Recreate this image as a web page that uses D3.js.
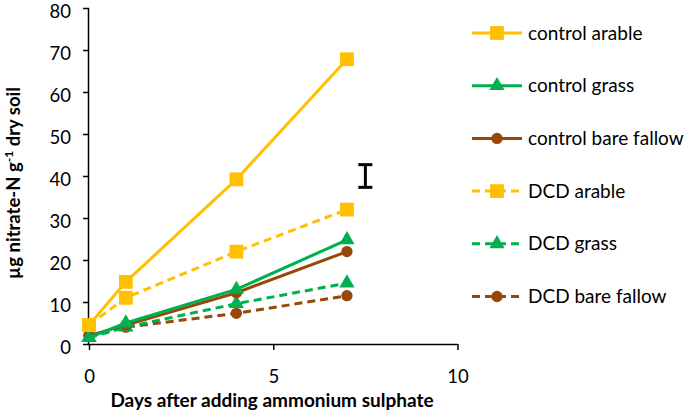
<!DOCTYPE html>
<html><head><meta charset="utf-8">
<script src="https://cdn.jsdelivr.net/npm/d3@7"></script>
<style>body{margin:0;background:#fff}svg{display:block}text{font-family:Lato,"Open Sans",sans-serif;fill:#000}</style>
</head><body><svg id="c" width="685" height="416"></svg>
<script>
const days = [0, 1, 4, 7];
const seriesNames = ["control arable","control grass","control bare fallow","DCD arable","DCD grass","DCD bare fallow"];
const controlArable = [4.5, 14.8, 39.2, 67.8];
const controlGrass = [1.5, 5.0, 13.0, 24.8];
const controlBareFallow = [2.0, 4.5, 12.2, 22.0];
const dcdArable = [4.5, 11.0, 22.0, 32.0];
const dcdGrass = [1.5, 4.0, 9.6, 14.5];
const dcdBareFallow = [2.0, 4.0, 7.3, 11.5];
const seriesColors = ["#FFC000","#00B050","#974806","#FFC000","#00B050","#974806"];
const seriesMarkers = ["square","triangle","circle","square","triangle","circle"];
const seriesDashed = [false,false,false,true,true,true];
const errorBar = {day: 7.5, center: 40, half: 2.7};
const xTicks = [0, 5, 10];
const yTicks = [0,10,20,30,40,50,60,70,80];

const values = [controlArable, controlGrass, controlBareFallow, dcdArable, dcdGrass, dcdBareFallow];
const svg = d3.select("#c");
const x = d3.scaleLinear().domain([0,10]).range([89, 457.5]);
const y = d3.scaleLinear().domain([0,80]).range([344, 8]);
const FS = "19px";

const yAxis = svg.append("g").attr("transform","translate(89,0)")
  .call(d3.axisLeft(y).tickValues(yTicks).tickSize(6).tickPadding(12));
const xAxis = svg.append("g").attr("transform","translate(0,344)")
  .call(d3.axisBottom(x).tickValues(xTicks).tickSize(6).tickPadding(20));
[yAxis, xAxis].forEach(a=>{
  a.selectAll("path,line").attr("stroke","#000").attr("stroke-width",1.5);
  a.selectAll("text").style("font-size","18.5px").style("font-family","Lato");
});
yAxis.selectAll("text").attr("y",4);
yAxis.select(".domain").attr("d","M-0.5,8V344");
xAxis.select(".domain").attr("d","M89,0.5H457.5");

svg.append("text").attr("x",272).attr("y",407).attr("text-anchor","middle")
  .style("font-size",FS).style("font-weight","bold").text("Days after adding ammonium sulphate");
const yt = svg.append("text").attr("transform","translate(20,183) rotate(-90)").attr("text-anchor","middle")
  .style("font-size","18.5px").style("font-weight","bold");
yt.append("tspan").text("µg nitrate-N g");
yt.append("tspan").attr("dy",-7).style("font-size","12px").text("-1");
yt.append("tspan").attr("dy",7).text(" dry soil");

const sym = {square: d3.symbolSquare, triangle: d3.symbolTriangle, circle: d3.symbolCircle};
const symSize = {square: 190, triangle: 100, circle: 100};
const line = d3.line().x((d,i)=>x(days[i])).y(d=>y(d));

const order = [5,4,3,2,1,0];
order.forEach(s=>{
  const g = svg.append("g");
  g.append("path").attr("d", line(values[s])).attr("fill","none")
    .attr("stroke", seriesColors[s]).attr("stroke-width",3)
    .attr("stroke-dasharray", seriesDashed[s] ? "8,5" : null);
  g.selectAll("path.m").data(values[s]).join("path").attr("class","m")
    .attr("transform",(d,i)=>`translate(${x(days[i])},${y(d)})`)
    .attr("d", d3.symbol().type(sym[seriesMarkers[s]]).size(symSize[seriesMarkers[s]]))
    .attr("fill", seriesColors[s]);
});

const ex = x(errorBar.day);
const eb = svg.append("g").attr("stroke","#000").attr("stroke-width",3);
eb.append("line").attr("x1",ex).attr("x2",ex).attr("y1",y(errorBar.center+errorBar.half)).attr("y2",y(errorBar.center-errorBar.half));
[errorBar.half,-errorBar.half].forEach(h=>eb.append("line").attr("x1",ex-7).attr("x2",ex+7)
  .attr("y1",y(errorBar.center+h)).attr("y2",y(errorBar.center+h)));

const leg = svg.append("g");
seriesNames.forEach((n,i)=>{
  const ly = 33 + i*52.7;
  const g = leg.append("g").attr("transform",`translate(0,${ly})`);
  g.append("line").attr("x1",472).attr("x2",522).attr("y1",0).attr("y2",0)
    .attr("stroke",seriesColors[i]).attr("stroke-width",3)
    .attr("stroke-dasharray", seriesDashed[i] ? "8,5" : null);
  g.append("path").attr("transform","translate(497,0)")
    .attr("d", d3.symbol().type(sym[seriesMarkers[i]]).size(symSize[seriesMarkers[i]]))
    .attr("fill", seriesColors[i]);
  g.append("text").attr("x",528).attr("y",0).attr("dy","0.35em").style("font-size",FS).text(n);
});
</script></body></html>
